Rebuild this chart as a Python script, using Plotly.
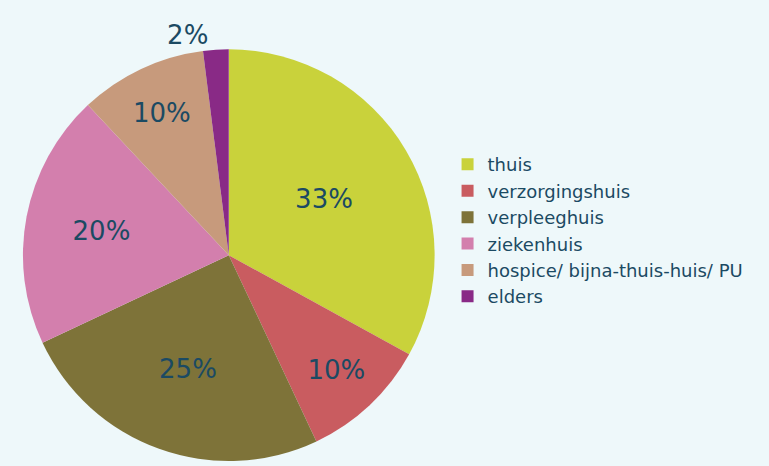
import plotly.graph_objects as go

labels = ["thuis", "verzorgingshuis", "verpleeghuis", "ziekenhuis",
          "hospice/ bijna-thuis-huis/ PU", "elders"]
values = [33, 10, 25, 20, 10, 2]
colors = ["#c9d23b", "#c95c60", "#7e7339", "#d37fad", "#c79a7c", "#892a86"]

text_color = "#1b4a63"
bg = "#eef8fa"

fig = go.Figure(
    go.Pie(
        labels=labels,
        values=values,
        sort=False,
        direction="clockwise",
        rotation=0,
        marker=dict(colors=colors, line=dict(width=0)),
        textinfo="percent",
        textposition=["inside"] * 5 + ["outside"],
        insidetextorientation="horizontal",
        textfont=dict(size=26, color=text_color),
        domain=dict(x=[0.02, 0.575], y=[0.0, 0.893]),
        hovertemplate="%{label}<br>%{percent}<extra></extra>",
    )
)

fig.update_layout(
    width=769,
    height=466,
    paper_bgcolor=bg,
    plot_bgcolor=bg,
    font=dict(family="DejaVu Sans, Arial, sans-serif", color=text_color),
    margin=dict(l=0, r=0, t=0, b=0),
    legend=dict(
        x=0.582,
        y=0.683,
        xanchor="left",
        yanchor="top",
        font=dict(size=18, color=text_color),
        bgcolor="rgba(0,0,0,0)",
    ),
)

# page body has a default 8px margin, drop it so the figure fills the window
fig.write_html("out.html", config={"displayModeBar": False},
               post_script="document.body.style.margin='0';")
